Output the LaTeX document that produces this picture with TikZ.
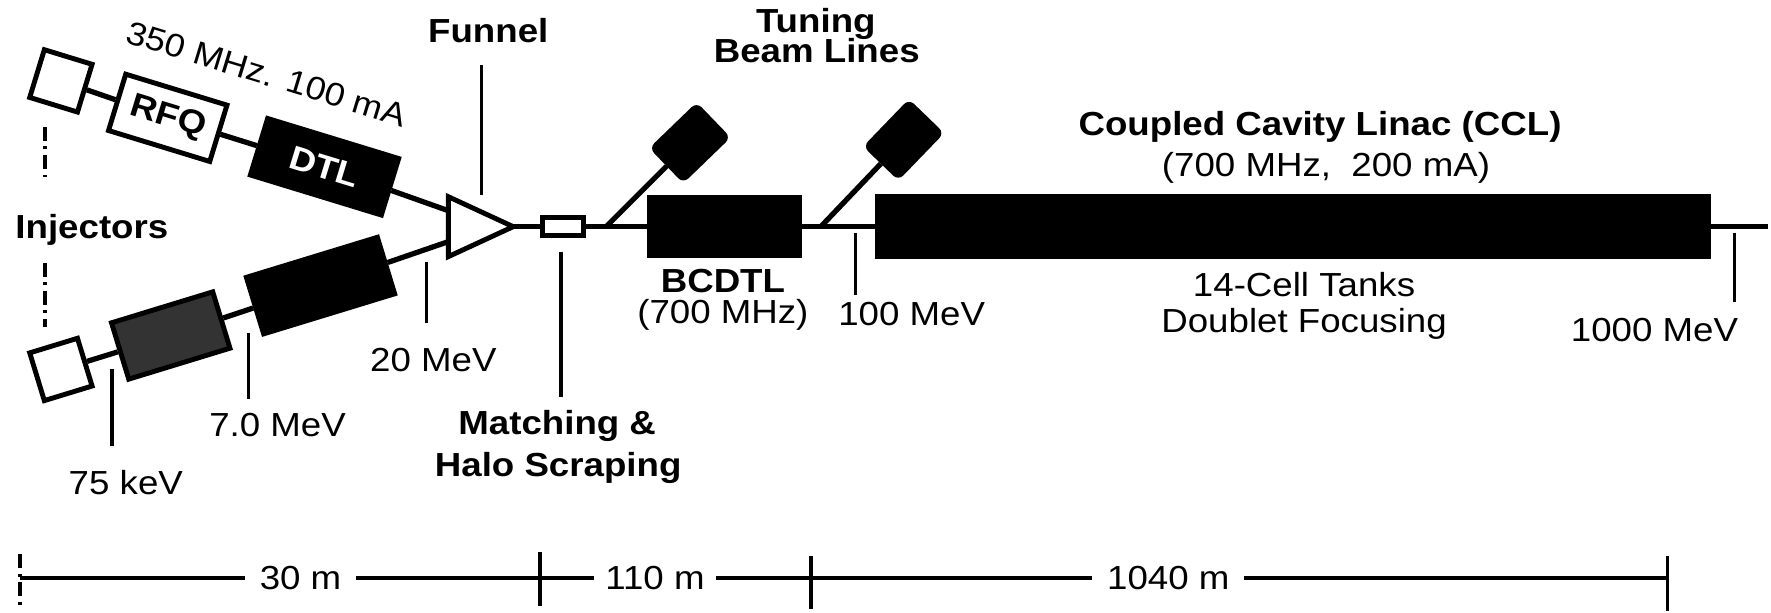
\documentclass[tikz,border=0pt]{standalone}
\usepackage{fontspec}
\setmainfont{Liberation Sans}[FakeStretch=1.1]
\usetikzlibrary{positioning}

\begin{document}
\begin{tikzpicture}[x=0.1mm, y=-0.1mm,
    every node/.style={font=\fontsize{9.5}{10}\selectfont, inner sep=0pt},
    lbl/.style={anchor=base},
    title/.style={anchor=base, font=\fontsize{9.5}{10}\selectfont\bfseries},
    beam/.style={line width=1.5pt},
    tick/.style={line width=1pt},
    dim/.style={line width=1.1pt},
    dashdot/.style={line width=1pt, dash pattern=on 4pt off 1.6pt on 0.8pt off 1.6pt},
    openbox/.style={draw, line width=1.4pt, fill=white},
    solidbox/.style={draw, line width=0.6pt, fill=black},
    injbox/.style={openbox, minimum width=5mm, minimum height=5mm},
    rfqbox/.style={openbox, minimum width=10.6mm, minimum height=5.9mm},
    dtlbox/.style={solidbox, minimum width=14mm, minimum height=6.2mm},
    tunebox/.style={solidbox, rounded corners=0.6mm, minimum width=6.4mm, minimum height=4.7mm},
  ]
  \fill[white] (0,0) rectangle (1771,613);

  % upper injector line, 350 MHz
  \node[injbox, rotate=-17] (inj1) at (61,81) {};
  \node[rfqbox, rotate=-17] (rfq1) at (168,118) {\bfseries RFQ};
  \node[dtlbox, rotate=-17, text=white] (dtl1) at (325,167) {\bfseries DTL};
  \node[lbl, anchor=base west, rotate=-17, font=\fontsize{9.3}{10}\selectfont] (freq) at (124,42) {350 MHz. 100 mA};
  % lower injector line
  \node[injbox, rotate=17] (inj2) at (61,370) {};
  \node[rfqbox, fill=black!80, rotate=17] (rfq2) at (171,336) {};
  \node[dtlbox, rotate=17] (dtl2) at (321,286) {};

  % funnel: the two lines meet on its left side
  \coordinate (fu1) at (449,211);
  \coordinate (fu2) at (449,242);
  \coordinate (ftip) at (514,227);
  \draw[beam] (inj1) -- (rfq1) -- (dtl1) -- (fu1);
  \draw[beam] (inj2) -- (rfq2) -- (dtl2) -- (fu2);
  \draw[openbox] (449,197) -- (ftip) -- (449,257) -- cycle;

  % main line at y=227
  \node[openbox, minimum width=4.1mm, minimum height=1.8mm] (match) at (564,227) {};
  \node[solidbox, minimum width=15.3mm, minimum height=6.1mm] (bcdtl) at (726,227) {};
  \node[solidbox, minimum width=83.5mm, minimum height=6.3mm] (ccl) at (1295,227) {};
  \coordinate (bend) at (1771,227);
  \draw[beam] (ftip) -- (match) -- (bcdtl) -- (ccl) -- (bend);

  % tuning beam lines
  \coordinate (tap1) at (607,227);
  \coordinate (tap2) at (822,227);
  \node[tunebox, rotate=44] (tb1) at (691,143) {};
  \node[tunebox, rotate=46] (tb2) at (905,140) {};
  \draw[beam] (tap1) -- (tb1);
  \draw[beam] (tap2) -- (tb2);

  % labels
  \node[title] (funnel) at (489,43) {Funnel};
  \node[title] (injectors) at (92,239) {Injectors};
  \node[title] (tuning) at (817,33) {Tuning};
  \node[title] (beamlines) at (818,63) {Beam Lines};
  \node[title] (cclname) at (1322,136) {Coupled Cavity Linac (CCL)};
  \node[lbl] (cclrf) at (1328,177) {(700 MHz,~ 200 mA)};
  \node[title] (bcdtlname) at (724,293) {BCDTL};
  \node[lbl] (bcdtlrf) at (724,324) {(700 MHz)};
  \node[lbl] (mev100) at (913,326) {100 MeV};
  \node[lbl] (tanks) at (1306,297) {14-Cell Tanks};
  \node[lbl] (focus) at (1306,333) {Doublet Focusing};
  \node[lbl] (mev1000) at (1657,342) {1000 MeV};
  \node[lbl] (mev20) at (434,372) {20 MeV};
  \node[lbl] (mev7) at (278,437) {7.0 MeV};
  \node[lbl] (kev75) at (126,495) {75 keV};
  \node[title] (matching) at (558,435) {Matching \&};
  \node[title] (halo) at (559,477) {Halo Scraping};

  % ticks
  \draw[tick] (482,65) -- (482,195);
  \draw[dashdot] (45,127) -- (45,183);
  \draw[dashdot] (45,263) -- (45,327);
  \draw[tick] (112,370) -- (112,447);
  \draw[tick] (249,333) -- (249,400);
  \draw[tick] (427,262) -- (427,323);
  \draw[tick] (562,252) -- (562,398);
  \draw[tick] (857,233) -- (857,295);
  \draw[tick] (1737,233) -- (1737,302);

  % length scale
  \coordinate (s0) at (20,579);
  \coordinate (s1) at (541,579);
  \coordinate (s2) at (812,579);
  \coordinate (s3) at (1670,579);
  \node[inner sep=4pt] (d30) at (301,579) {30 m};
  \node[inner sep=3pt] (d110) at (656,579) {110 m};
  \node[inner sep=4pt] (d1040) at (1170,579) {1040 m};
  \draw[dim] (s0) -- (d30) -- (s1);
  \draw[dim] (s1) -- (d110) -- (s2);
  \draw[dim] (s2) -- (d1040) -- (s3);
  \draw[dashdot] (s0) ++(0,-24) -- ++(0,55);
  \draw[tick] (s1) ++(0,-26) -- ++(0,54);
  \draw[tick] (s2) ++(0,-22) -- ++(0,53);
  \draw[tick] (s3) ++(0,-22) -- ++(0,55);
\end{tikzpicture}
\end{document}
